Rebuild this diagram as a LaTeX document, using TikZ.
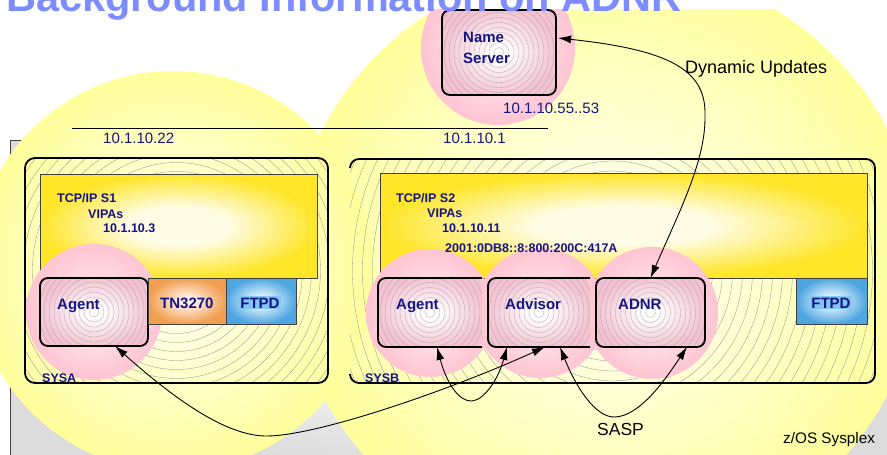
\documentclass[tikz,border=0pt]{standalone}
\usepackage{fontspec}
\setmainfont{Liberation Sans}
\usetikzlibrary{arrows.meta}
\definecolor{navy}{RGB}{20,20,135}
\definecolor{titleblue}{RGB}{125,140,255}
\definecolor{yIn}{RGB}{255,255,240}
\definecolor{yOut}{RGB}{255,255,155}
\definecolor{tIn}{RGB}{255,252,230}
\definecolor{tOut}{RGB}{255,230,40}
\definecolor{pIn}{RGB}{255,228,236}
\definecolor{pOut}{RGB}{255,196,210}
\definecolor{bIn}{RGB}{255,255,255}
\definecolor{bOut}{RGB}{244,194,210}
\definecolor{oIn}{RGB}{255,238,222}
\definecolor{oOut}{RGB}{242,158,80}
\definecolor{cIn}{RGB}{228,245,255}
\definecolor{cOut}{RGB}{78,166,225}
\definecolor{gIn}{RGB}{247,247,247}
\definecolor{gOut}{RGB}{220,220,220}
\definecolor{ftpdhl}{RGB}{128,198,240}
\pgfdeclareradialshading{shYel}{\pgfpoint{0bp}{0bp}}{color(0bp)=(yIn); color(4bp)=(yIn); color(25bp)=(yOut); color(50bp)=(yOut)}
\pgfdeclareradialshading{shTcp}{\pgfpoint{0bp}{0bp}}{color(0bp)=(tIn); color(9bp)=(tIn); color(25bp)=(tOut); color(50bp)=(tOut)}
\pgfdeclareradialshading{shPink}{\pgfpoint{0bp}{0bp}}{color(0bp)=(pIn); color(8bp)=(pIn); color(25bp)=(pOut); color(50bp)=(pOut)}
\pgfdeclareradialshading{shBox}{\pgfpoint{0bp}{0bp}}{color(0bp)=(bIn); color(4bp)=(bIn); color(25bp)=(bOut); color(50bp)=(bOut)}
\pgfdeclareradialshading{shOra}{\pgfpoint{0bp}{0bp}}{color(0bp)=(oIn); color(5bp)=(oIn); color(25bp)=(oOut); color(50bp)=(oOut)}
\pgfdeclareradialshading{shBlu}{\pgfpoint{0bp}{0bp}}{color(0bp)=(cIn); color(5bp)=(cIn); color(25bp)=(cOut); color(50bp)=(cOut)}
\pgfdeclareradialshading{shGray}{\pgfpoint{0bp}{0bp}}{color(0bp)=(gIn); color(10bp)=(gIn); color(25bp)=(gOut); color(50bp)=(gOut)}
\tikzset{
  hatchline/.style={draw=black!45, line width=0.3pt},
  finehatch/.style={draw=black!35, line width=0.3pt},
  bigbox/.style={line width=1.8pt, rounded corners=10pt, inner sep=0pt, outer sep=0pt},
  pinkfill/.style={shade, shading=shBox, rounded corners=8pt, inner sep=0pt, outer sep=0pt,
    path picture={\foreach \r in {5,10,...,80} \draw[finehatch] (path picture bounding box.center) circle (\r pt);}},
  pinkbox/.style={pinkfill, draw=black, line width=1.8pt},
  boxline/.style={line width=1.8pt, rounded corners=8pt},
  tcpbox/.style={shade, shading=shTcp, draw=black!75, line width=0.7pt, inner sep=0pt, outer sep=0pt},
  tnbox/.style={shade, shading=shOra, draw=black!75, line width=0.7pt, inner sep=0pt, outer sep=0pt},
  ftpbox/.style={shade, shading=shBlu, draw=black!75, line width=0.7pt, inner sep=0pt, outer sep=0pt},
  pinkcirc/.style={shade, shading=shPink},
  blabel/.style={font=\fontsize{15}{18}\selectfont\bfseries, text=navy, inner sep=0pt, anchor=base west},
  slabel/.style={font=\fontsize{12.5}{15}\selectfont\bfseries, text=navy, inner sep=0pt, anchor=base west},
  iplabel/.style={font=\fontsize{15}{18}\selectfont, text=navy, inner sep=0pt, anchor=base west},
  hl/.style={blabel, fill=ftpdhl, inner sep=1.2pt},
  conn/.style={line width=0.9pt, arrows={Latex[length=13pt,width=8pt]-Latex[length=13pt,width=8pt]}},
}
\begin{document}
\begin{tikzpicture}[x=1pt,y=-1pt]
\useasboundingbox (0,0) rectangle (887,455);
% z/OS Sysplex background
\begin{scope}
\clip (0,0) rectangle (887,455);
\shade[shading=shGray] (10,140) rectangle (900,470);
\draw[line width=0.8pt, black!75] (10,470) -- (10,140) -- (900,140);
% big yellow circles
\shade[shading=shYel] (605,262) ellipse [x radius=315pt, y radius=300pt];
\shade[shading=shYel] (173,271) circle (200pt);
\end{scope}
% name server
\shade[pinkcirc] (498,48) circle (77pt);
\node[pinkbox, minimum width=114pt, minimum height=85pt] (ns) at (499,52.5) {};
\draw[line width=0.8pt] (72,128) -- (548,128);
% SYSA
\node[bigbox, draw, minimum width=303pt, minimum height=225pt,
  path picture={\foreach \r in {9,18,...,207} \draw[hatchline] (path picture bounding box.center) circle (\r pt);}] (sysa) at (176.5,270.5) {};
% SYSB
\node[bigbox, minimum width=525pt, minimum height=224pt,
  path picture={\foreach \r in {10,20,...,300} \draw[hatchline] (path picture bounding box.center) circle (\r pt);}] (sysb) at (612.5,271) {};
\draw[line width=1.8pt, rounded corners=9pt] ([yshift=-9pt]sysb.north west) -- (sysb.north west) -- (sysb.north east) -- (sysb.south east) -- (sysb.south west) -- ([yshift=9pt]sysb.south west);
% TCP/IP boxes
\node[tcpbox, minimum width=277pt, minimum height=104pt] (tcp1) at (178.5,226) {};
\node[tcpbox, minimum width=487pt, minimum height=105pt] (tcp2) at (623.5,225.5) {};
% pink circles
\shade[pinkcirc] (94,312) circle (68pt);
\shade[pinkcirc] (430,313) circle (64pt);
\shade[pinkcirc] (540,313) circle (65pt);
\shade[pinkcirc] (652,313) circle (66pt);
% boxes
\node[pinkbox, minimum width=108pt, minimum height=68pt] (agA) at (94,312) {};
\node[tnbox, minimum width=78pt, minimum height=46pt] (tn) at (187,301) {};
\node[ftpbox, minimum width=70pt, minimum height=46pt] (ftpA) at (261,301) {};
\node[pinkfill, minimum width=104pt, minimum height=69pt] (agB) at (430,312.5) {};
\draw[boxline] (agB.north east) -- (agB.north west) -- (agB.south west) -- (agB.south east);
\node[pinkfill, minimum width=102pt, minimum height=69pt] (adv) at (539,312.5) {};
\draw[boxline] (adv.north east) -- (adv.north west) -- (adv.south west) -- (adv.south east);
\node[pinkbox, minimum width=109pt, minimum height=69pt] (adnr) at (650.5,312.5) {};
\node[ftpbox, minimum width=71pt, minimum height=46pt] (ftpB) at (831.5,301) {};
% texts
\node[blabel] (t1) at (463,42) {Name};
\node[blabel] (t2) at (463,63) {Server};
\node[iplabel] (t3) at (503,113) {10.1.10.55..53};
\node[iplabel] (t4) at (103,143) {10.1.10.22};
\node[iplabel] (t5) at (443,143) {10.1.10.1};
\node[font=\fontsize{18}{21}\selectfont, inner sep=0pt, anchor=base west] (t6) at (685,73) {Dynamic Updates};
\node[slabel] (t7) at (57,202) {TCP/IP S1};
\node[slabel] (t8) at (88,218) {VIPAs};
\node[slabel] (t9) at (103,232) {10.1.10.3};
\node[slabel] (t10) at (396,202) {TCP/IP S2};
\node[slabel] (t11) at (427,217) {VIPAs};
\node[slabel] (t12) at (442,232) {10.1.10.11};
\node[slabel] (t13) at (445,252) {2001:0DB8::8:800:200C:417A};
\node[blabel] (t14) at (57,309) {Agent};
\node[blabel] (t15) at (160,308) {TN3270};
\node[hl] (t16) at (239,308) {FTPD};
\node[blabel] (t17) at (396,309) {Agent};
\node[blabel] (t18) at (505,309) {Advisor};
\node[blabel] (t19) at (618,309) {ADNR};
\node[hl] (t20) at (810,308) {FTPD};
\node[slabel] (t21) at (42,382) {SYSA};
\node[slabel] (t22) at (365,382) {SYSB};
\node[font=\fontsize{17.5}{20}\selectfont, inner sep=0pt, anchor=base west] (t23) at (597,435) {SASP};
\node[font=\fontsize{15.3}{18}\selectfont, inner sep=0pt, anchor=base west] (t24) at (783,443) {z/OS Sysplex};
% connectors
\draw[conn] ([xshift=21pt]agA.south) .. controls (170,395) and (225,437) .. (268,436) .. controls (320,435) and (450,390) .. ([xshift=6pt]adv.south);
\draw[conn] ([xshift=7pt]agB.south) .. controls (447,385) and (460,402) .. (472,401) .. controls (484,400) and (498,380) .. ([xshift=-32pt]adv.south);
\draw[conn] ([xshift=21pt]adv.south) .. controls (575,385) and (595,418) .. (615,417) .. controls (640,416) and (665,380) .. ([xshift=36.5pt]adnr.south);
\draw[conn] (adnr.north) .. controls (680,210) and (706,160) .. (705,115) .. controls (706,70) and (670,50) .. ([xshift=2pt,yshift=14.5pt]ns.east);
% title band
\fill[white] (0,0) rectangle (887,9);
\node[font=\fontsize{41.5}{45}\selectfont\bfseries, text=titleblue, inner sep=0pt, anchor=base west] (title) at (6,12) {Background Information on ADNR};
\end{tikzpicture}
\end{document}
